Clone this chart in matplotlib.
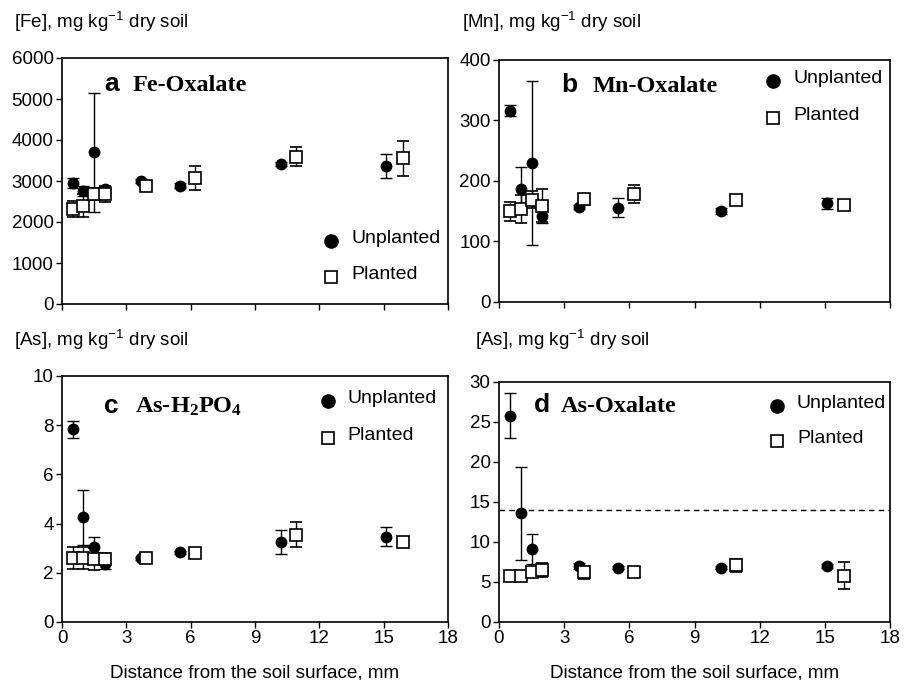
import matplotlib.pyplot as plt
import numpy as np

plt.rcParams["font.family"] = ["Liberation Sans", "DejaVu Sans"]
plt.rcParams["mathtext.default"] = "regular"

# distance from soil surface, mm
x_unpl = [0.5, 1.0, 1.5, 2.0, 3.7, 5.5, 10.2, 15.1]
x_pl = [0.5, 1.0, 1.5, 2.0, 3.9, 6.2, 10.9, 15.9]

# a  Fe-Oxalate
fe_unpl = [2950, 2760, 3700, 2800, 3000, 2890, 3410, 3370]
fe_unpl_err = [120, 130, 1450, 70, 60, 50, 50, 300]
fe_pl = [2310, 2400, 2690, 2690, 2880, 3070, 3590, 3550]
fe_pl_err = [200, 290, 150, 200, 120, 300, 230, 420]

# b  Mn-Oxalate
mn_unpl = [316, 187, 230, 142, 157, 156, 150, 163]
mn_unpl_err = [9, 36, 136, 12, 4, 16, 5, 9]
mn_pl = [150, 154, 169, 159, 170, 178, 169, 161]
mn_pl_err = [16, 23, 14, 27, 9, 15, 8, 5]

# c  As-H2PO4
ash_unpl = [7.83, 4.25, 3.05, 2.35, 2.6, 2.84, 3.25, 3.47]
ash_unpl_err = [0.35, 1.12, 0.42, 0.2, 0.06, 0.06, 0.5, 0.4]
ash_pl = [2.6, 2.6, 2.55, 2.55, 2.6, 2.8, 3.55, 3.26]
ash_pl_err = [0.43, 0.43, 0.45, 0.25, 0.08, 0.2, 0.5, 0.08]

# d  As-Oxalate
aso_unpl = [25.8, 13.6, 9.1, 6.6, 7.0, 6.8, 6.8, 7.0]
aso_unpl_err = [2.8, 5.8, 1.9, 0.3, 0.4, 0.2, 0.2, 0.2]
aso_pl = [5.8, 5.8, 6.2, 6.5, 6.2, 6.3, 7.1, 5.8]
aso_pl_err = [0.1, 0.1, 0.6, 0.9, 0.8, 0.6, 0.8, 1.7]
aso_threshold = 14.0

panels = [
    ("a", "Fe-Oxalate", "[Fe], mg kg$^{-1}$ dry soil", fe_unpl, fe_unpl_err, fe_pl, fe_pl_err,
     [0, 1000, 2000, 3000, 4000, 5000, 6000]),
    ("b", "Mn-Oxalate", "[Mn], mg kg$^{-1}$ dry soil", mn_unpl, mn_unpl_err, mn_pl, mn_pl_err,
     [0, 100, 200, 300, 400]),
    ("c", "As-H$_2$PO$_4$", "[As], mg kg$^{-1}$ dry soil", ash_unpl, ash_unpl_err, ash_pl, ash_pl_err,
     [0, 2, 4, 6, 8, 10]),
    ("d", "As-Oxalate", "[As], mg kg$^{-1}$ dry soil", aso_unpl, aso_unpl_err, aso_pl, aso_pl_err,
     [0, 5, 10, 15, 20, 25, 30]),
]

fig = plt.figure(figsize=(9.14, 6.8), dpi=100)
W, H = 914, 680
boxes = [(62, 58, 448, 304), (499, 60, 890, 302), (62, 376, 448, 622), (499, 382, 890, 622)]
label_pos = [(14, 28), (462, 28), (14, 346), (475, 346)]
# title positions (letter x, name x, y) in axes fraction
title_pos = [(0.11, 0.184, 0.894), (0.16, 0.24, 0.897), (0.11, 0.19, 0.88), (0.09, 0.158, 0.904)]
# legend (marker x, y of first row, y of second row)
leg_pos = [(0.697, 0.255, 0.11), (0.70, 0.915, 0.76), (0.688, 0.9, 0.75), (0.71, 0.9, 0.755)]

for i, (letter, title, ylab, yu, eu, yp, ep, yt) in enumerate(panels):
    x0, y0, x1, y1 = boxes[i]
    ax = fig.add_axes([x0 / W, 1 - y1 / H, (x1 - x0) / W, (y1 - y0) / H])
    ax.errorbar(x_unpl, yu, yerr=eu, fmt="o", color="black", ms=7.5, mfc="black",
                ecolor="black", elinewidth=1, capsize=4, capthick=1, zorder=3)
    ax.errorbar(x_pl, yp, yerr=ep, fmt="s", color="black", ms=8, mfc="white", mew=1.2,
                ecolor="black", elinewidth=1, capsize=4, capthick=1, zorder=4)
    if letter == "d":
        ax.axhline(aso_threshold, color="black", ls=(0, (4, 3)), lw=1)
    ax.set_xlim(0, 18)
    ax.set_ylim(yt[0], yt[-1])
    ax.set_yticks(yt)
    ax.set_xticks([0, 3, 6, 9, 12, 15, 18])
    ax.tick_params(direction="out", length=4, width=1, labelsize=13.5, pad=2)
    if i < 2:
        ax.set_xticklabels([])
    else:
        ax.set_xlabel("Distance from the soil surface, mm", fontsize=13.6, labelpad=12)
    for s in ax.spines.values():
        s.set_linewidth(1.2)

    # panel title: sans letter + serif bold name
    tx, nx, ty = title_pos[i]
    ax.text(tx, ty, letter, transform=ax.transAxes, fontsize=19, fontweight="bold",
            va="center", ha="left")
    ax.text(nx, ty - 0.005, title, transform=ax.transAxes, fontsize=17.5, fontweight="bold",
            family="Liberation Serif", va="center", ha="left")

    # legend drawn by hand
    lx, ly1, ly2 = leg_pos[i]
    ax.plot([lx], [ly1], "o", color="black", ms=9.5, transform=ax.transAxes, clip_on=False)
    ax.plot([lx], [ly2], "s", color="black", mfc="white", ms=9, mew=1.2,
            transform=ax.transAxes, clip_on=False)
    ax.text(lx + 0.052, ly1 + 0.01, "Unplanted", transform=ax.transAxes, fontsize=14, va="center")
    ax.text(lx + 0.052, ly2 + 0.01, "Planted", transform=ax.transAxes, fontsize=14, va="center")

    lxp, lyp = label_pos[i]
    fig.text(lxp / W, 1 - lyp / H, ylab, fontsize=13.5, ha="left", va="baseline")

fig.savefig("out.png", dpi=100)
